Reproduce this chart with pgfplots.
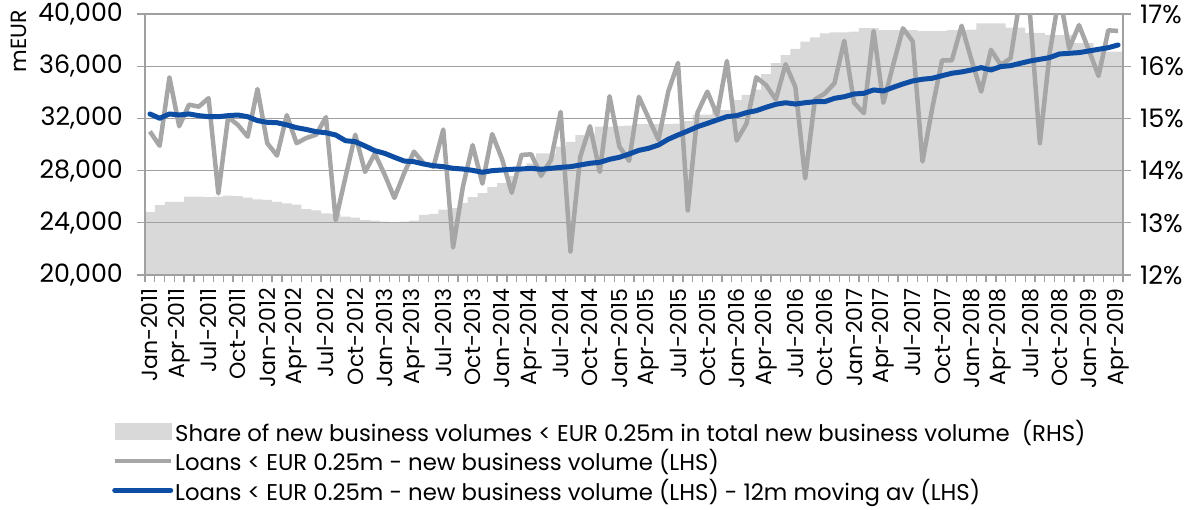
\documentclass[border=0pt]{standalone}
\usepackage{pgfplots}
\usepackage{pgfplotstable}
\pgfplotsset{compat=1.18}
\usepackage{fontspec}
\setmainfont{Poppins}
\definecolor{areacol}{HTML}{D9D9D9}
\definecolor{greyline}{HTML}{A6A6A6}
\definecolor{blueline}{HTML}{0E4DA4}
\definecolor{gridcol}{HTML}{A0A0A0}

\pgfplotstableread{
i loans ma
0 31000 32340
1 29900 32010
2 35150 32340
3 31400 32260
4 33050 32340
5 32900 32210
6 33550 32130
7 26250 32130
8 32100 32210
9 31500 32260
10 30600 32130
11 34250 31830
12 30100 31700
13 29150 31670
14 32250 31500
15 30100 31290
16 30500 31150
17 30750 30980
18 32100 30900
19 24200 30730
20 27500 30290
21 30750 30215
22 27900 29885
23 29300 29525
24 27700 29325
25 25900 29020
26 27800 28735
27 29450 28680
28 28550 28505
29 28300 28375
30 31150 28300
31 22100 28175
32 26750 28120
33 29950 28020
34 27000 27870
35 30800 27995
36 28900 28045
37 26300 28100
38 29200 28120
39 29250 28175
40 27600 28100
41 28800 28175
42 32500 28250
43 21800 28300
44 29050 28430
45 31400 28560
46 27900 28635
47 33700 28865
48 29850 29020
49 28750 29270
50 33650 29550
51 32000 29710
52 30350 29960
53 34050 30400
54 36250 30730
55 24950 31035
56 32450 31365
57 34050 31620
58 32250 31880
59 36400 32130
60 30300 32210
61 31600 32440
62 35150 32590
63 34550 32850
64 33450 33080
65 36150 33200
66 34400 33100
67 27400 33200
68 33450 33280
69 33900 33280
70 34700 33540
71 37950 33660
72 33200 33870
73 32400 33920
74 38700 34180
75 33200 34100
76 36100 34380
77 38900 34640
78 37900 34870
79 28700 35000
80 32800 35075
81 36450 35270
82 36450 35460
83 39100 35560
84 36500 35710
85 34050 35890
86 37250 35710
87 36100 35970
88 36600 36040
89 41300 36220
90 39900 36400
91 30100 36530
92 37000 36660
93 41500 36935
94 37350 36990
95 39150 37040
96 37250 37165
97 35250 37295
98 38750 37420
99 38700 37625
}\datatable

\begin{document}
\begin{tikzpicture}
\useasboundingbox (0,0) rectangle (1192pt,510pt);
% secondary axis: share (RHS)
\begin{axis}[
  at={(145pt,235pt)}, anchor=south west,
  scale only axis, width=978pt, height=261pt,
  xmin=-0.5, xmax=99.5, ymin=12, ymax=17,
  axis x line=none, axis y line*=right,
  axis line style={gridcol, line width=1.3pt},
  ytick={12,13,14,15,16,17},
  yticklabels={12\%,13\%,14\%,15\%,16\%,17\%},
  tick align=outside, major tick length=8pt,
  ytick style={gridcol, line width=1.3pt},
  yticklabel style={font=\fontsize{25.5}{30}\selectfont, anchor=west, inner sep=0pt},
  yticklabel shift=9pt,
]
\addplot[fill=areacol, draw=none, const plot mark left] coordinates {
(-0.5,13.21) (0.5,13.34) (1.5,13.40) (2.5,13.40) (3.5,13.50) (4.5,13.50) (5.5,13.49) (6.5,13.50) (7.5,13.52) (8.5,13.51) (9.5,13.48) (10.5,13.45) (11.5,13.44) (12.5,13.40) (13.5,13.37) (14.5,13.35) (15.5,13.26) (16.5,13.24) (17.5,13.18) (18.5,13.17) (19.5,13.12) (20.5,13.10) (21.5,13.05) (22.5,13.04) (23.5,13.02) (24.5,13.01) (25.5,13.02) (26.5,13.04) (27.5,13.15) (28.5,13.17) (29.5,13.25) (30.5,13.28) (31.5,13.38) (32.5,13.49) (33.5,13.57) (34.5,13.69) (35.5,13.76) (36.5,13.90) (37.5,13.98) (38.5,14.14) (39.5,14.33) (40.5,14.33) (41.5,14.46) (42.5,14.55) (43.5,14.68) (44.5,14.70) (45.5,14.84) (46.5,14.84) (47.5,14.85) (48.5,14.86) (49.5,14.89) (50.5,14.89) (51.5,14.89) (52.5,14.89) (53.5,14.90) (54.5,14.95) (55.5,15.07) (56.5,15.07) (57.5,15.16) (58.5,15.16) (59.5,15.35) (60.5,15.45) (61.5,15.55) (62.5,15.85) (63.5,16.06) (64.5,16.21) (65.5,16.33) (66.5,16.47) (67.5,16.55) (68.5,16.63) (69.5,16.65) (70.5,16.65) (71.5,16.66) (72.5,16.73) (73.5,16.73) (74.5,16.69) (75.5,16.69) (76.5,16.69) (77.5,16.69) (78.5,16.67) (79.5,16.67) (80.5,16.67) (81.5,16.69) (82.5,16.69) (83.5,16.70) (84.5,16.82) (85.5,16.82) (86.5,16.82) (87.5,16.74) (88.5,16.74) (89.5,16.64) (90.5,16.64) (91.5,16.60) (92.5,16.60) (93.5,16.60) (94.5,16.44) (95.5,16.44) (96.5,16.28) (97.5,16.28) (98.5,16.28) (99.5,16.28)
} \closedcycle;
\end{axis}
% primary axis
\begin{axis}[
  at={(145pt,235pt)}, anchor=south west,
  scale only axis, width=978pt, height=261pt,
  xmin=-0.5, xmax=99.5, ymin=20000, ymax=40000,
  scaled y ticks=false,
  axis line style={gridcol, line width=1.3pt},
  ymajorgrids, grid style={gridcol, line width=1.3pt},
  ytick={20000,24000,28000,32000,36000,40000},
  yticklabels={{20,000},{24,000},{28,000},{32,000},{36,000},{40,000}},
  xtick={0,3,...,99},
  xticklabels={Jan-2011,Apr-2011,Jul-2011,Oct-2011,Jan-2012,Apr-2012,Jul-2012,Oct-2012,Jan-2013,Apr-2013,Jul-2013,Oct-2013,Jan-2014,Apr-2014,Jul-2014,Oct-2014,Jan-2015,Apr-2015,Jul-2015,Oct-2015,Jan-2016,Apr-2016,Jul-2016,Oct-2016,Jan-2017,Apr-2017,Jul-2017,Oct-2017,Jan-2018,Apr-2018,Jul-2018,Oct-2018,Jan-2019,Apr-2019},
  minor xtick={-0.5,0.5,...,99.5},
  xtick pos=bottom, ytick pos=left,
  tick align=outside, major tick length=8pt, minor tick length=7pt,
  major x tick style={draw=none},
  minor x tick style={gridcol, line width=1.3pt},
  ytick style={gridcol, line width=1.3pt},
  xticklabel style={font=\fontsize{22}{26}\selectfont, rotate=90, anchor=east, inner sep=0pt},
  xticklabel shift=5pt,
  yticklabel style={font=\fontsize{25.3}{30}\selectfont, anchor=east, inner sep=0pt},
  yticklabel shift=14pt,
  legend style={at={(axis description cs:-0.0337,-0.548)}, anchor=north west, draw=none, fill=none,
    font=\fontsize{22.8}{26}\selectfont, legend cell align=left, row sep=2.5pt, inner sep=0pt},
]
\addlegendimage{legend image code/.code={\fill[areacol] (0pt,-8pt) rectangle (56pt,8pt);}}
\addlegendentry{Share of new business volumes < EUR 0.25m in total new business volume\ \ (RHS)}
\addplot[greyline, line width=4.5pt, line join=round, mark=none,
  legend image code/.code={\draw[greyline, line width=4.5pt] (0pt,0pt) -- (56pt,0pt);}]
  table[x=i, y=loans] {\datatable};
\addlegendentry{Loans < EUR 0.25m - new business volume (LHS)}
\addplot[blueline, line width=5pt, line join=round, line cap=round, mark=none,
  legend image code/.code={\draw[blueline, line width=5pt] (0pt,0pt) -- (56pt,0pt);}]
  table[x=i, y=ma] {\datatable};
\addlegendentry{Loans < EUR 0.25m - new business volume (LHS) - 12m moving av (LHS)}
\end{axis}
\node[rotate=90, anchor=base east, font=\fontsize{22}{26}\selectfont, inner sep=0pt] at (26pt,500pt) {mEUR};
\end{tikzpicture}
\end{document}
